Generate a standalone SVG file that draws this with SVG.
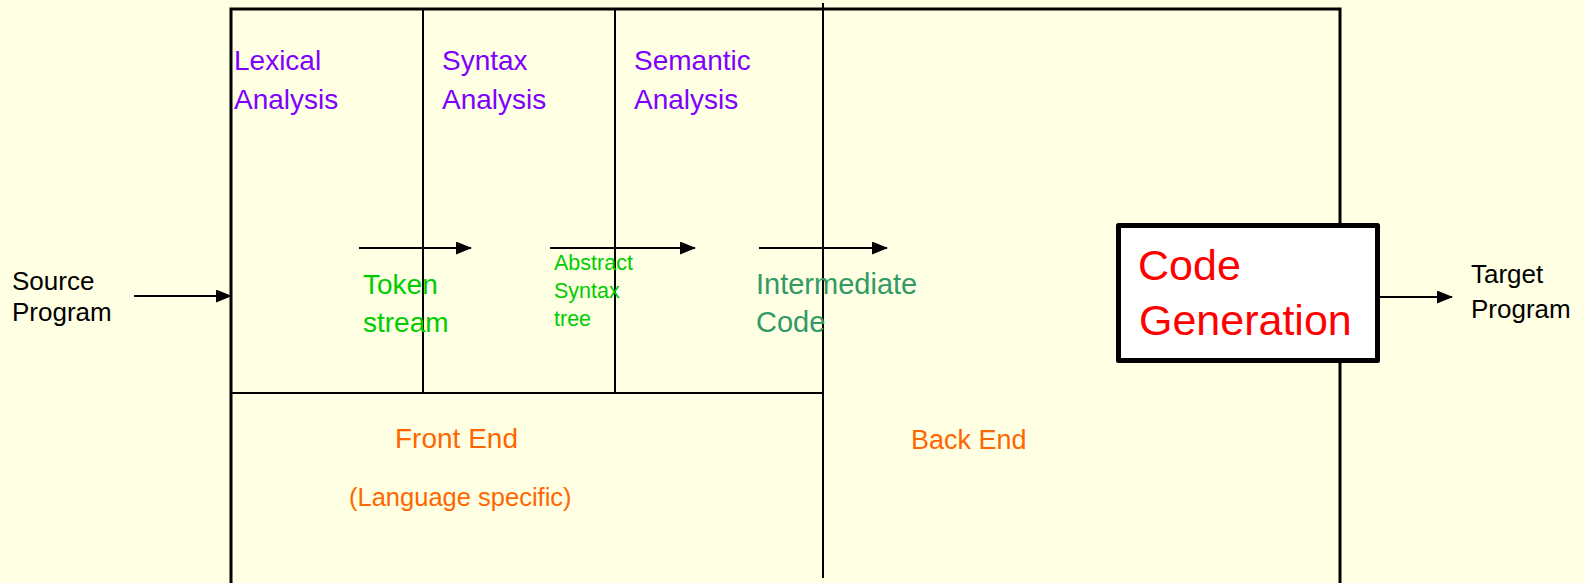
<svg xmlns="http://www.w3.org/2000/svg" width="1585" height="583" viewBox="0 0 1585 583">
<defs>
<marker id="ah" viewBox="0 0 16 13" refX="15" refY="6.5" markerWidth="16" markerHeight="13" markerUnits="userSpaceOnUse" orient="auto">
<path d="M0,0 L16,6.5 L0,13 Z" fill="#000"/>
</marker>
<style>
text{font-family:"Liberation Sans",Arial,sans-serif;}
.phase{fill:#7F00FF;font-size:28px;}
.tok{fill:#00CC00;font-size:28px;}
.ast{fill:#00CC00;font-size:21.5px;}
.ic{fill:#339966;font-size:29px;}
.io{fill:#000;font-size:26px;}
.end{fill:#FF6600;}
.frame{fill:none;stroke:#000;stroke-width:3;}
.div{fill:none;stroke:#000;stroke-width:2;}
.conn{stroke:#000;stroke-width:2;fill:none;marker-end:url(#ah);}
</style>
</defs>
<rect width="1585" height="583" fill="#FFFFE3"/>
<g id="frame">
<path class="frame" d="M231,583 V9 H1340 V583"/>
<path class="div" d="M823,3 V578"/>
<path class="div" d="M231,393 H823"/>
<path class="div" d="M423,9 V393"/>
<path class="div" d="M615,9 V393"/>
</g>
<g id="lexical"><text class="phase" x="234" y="70">Lexical</text><text class="phase" x="234" y="109">Analysis</text></g>
<g id="syntax"><text class="phase" x="442" y="70">Syntax</text><text class="phase" x="442" y="109">Analysis</text></g>
<g id="semantic"><text class="phase" x="634" y="70">Semantic</text><text class="phase" x="634" y="109">Analysis</text></g>
<g id="token"><text class="tok" x="363" y="294">Token</text><text class="tok" x="363" y="332">stream</text></g>
<g id="ast"><text class="ast" x="554" y="270">Abstract</text><text class="ast" x="554" y="298">Syntax</text><text class="ast" x="554" y="326">tree</text></g>
<g id="ic"><text class="ic" x="756" y="294">Intermediate</text><text class="ic" x="756" y="332">Code</text></g>
<g id="source"><text class="io" x="12" y="290">Source</text><text class="io" x="12" y="321">Program</text></g>
<g id="target"><text class="io" x="1471" y="283">Target</text><text class="io" x="1471" y="318">Program</text></g>
<g id="codegen">
<rect x="1118.5" y="225.5" width="259" height="135" fill="#FFFFFF" stroke="#000" stroke-width="5" stroke-linejoin="round"/>
<text x="1138" y="280" fill="#FF0000" font-size="43">Code</text>
<text x="1139" y="335" fill="#FF0000" font-size="43">Generation</text>
</g>
<g id="frontend"><text class="end" x="395" y="448" font-size="28">Front End</text><text class="end" x="349" y="506" font-size="25.5">(Language specific)</text></g>
<g id="backend"><text class="end" x="911" y="449" font-size="27">Back End</text></g>
<g id="connectors">
<line class="conn" x1="134" y1="296" x2="231" y2="296"/>
<line class="conn" x1="359" y1="248" x2="471" y2="248"/>
<line class="conn" x1="550" y1="248" x2="695" y2="248"/>
<line class="conn" x1="759" y1="248" x2="887" y2="248"/>
<line class="conn" x1="1380" y1="297" x2="1452" y2="297"/>
</g>
</svg>
